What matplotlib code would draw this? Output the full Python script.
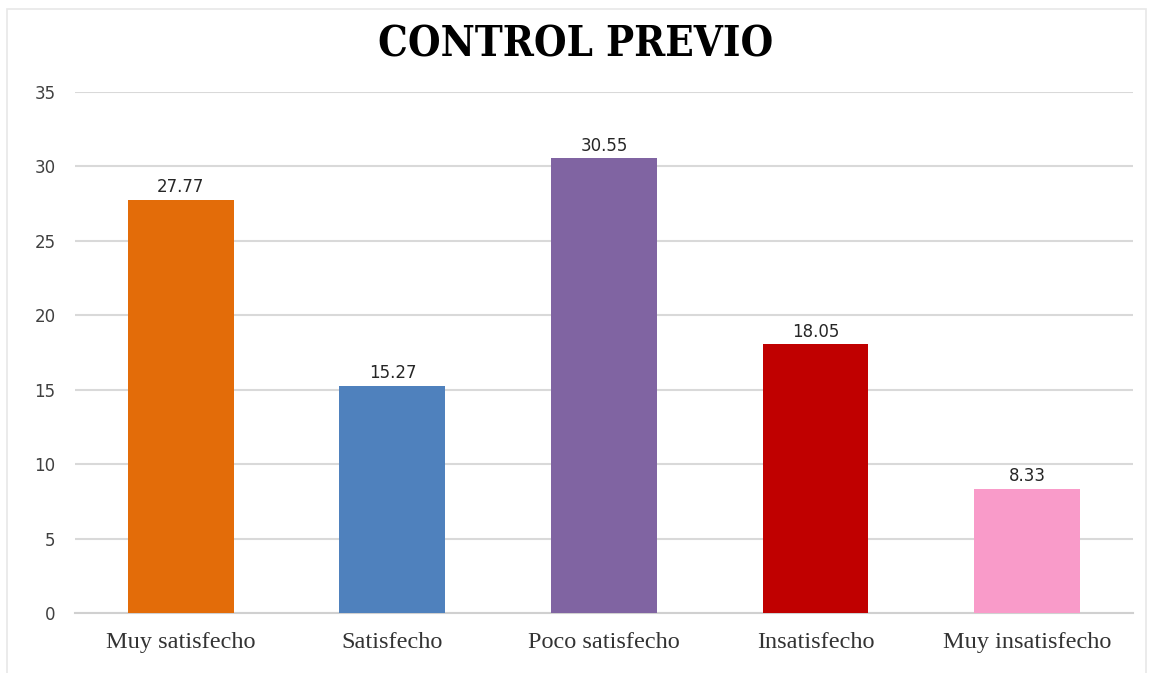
import matplotlib.pyplot as plt
from matplotlib.patches import Rectangle

# Control previo: satisfaction percentages
categories = ['Muy satisfecho', 'Satisfecho', 'Poco satisfecho', 'Insatisfecho', 'Muy insatisfecho']
values = [27.77, 15.27, 30.55, 18.05, 8.33]
colors = ['#E36C09', '#4F81BD', '#8064A2', '#C00000', '#F99BC9']
yticks = [0, 5, 10, 15, 20, 25, 30, 35]

fig = plt.figure(figsize=(11.52, 6.73), dpi=100)
ax = fig.add_axes([0.0651, 0.0892, 0.9184, 0.7741])

# faint outer frame of the chart
fig.patches.append(Rectangle((7 / 1152, -0.01), 1139 / 1152, 1 - 9 / 673 + 0.01,
                             transform=fig.transFigure, fill=False,
                             edgecolor='#E8E8E8', linewidth=1.2))

x = range(len(categories))
bars = ax.bar(x, values, width=0.5, color=colors, zorder=3)

for rect, v in zip(bars, values):
    ax.text(rect.get_x() + rect.get_width() / 2, v + 0.25, f'{v:.2f}',
            ha='center', va='bottom', fontsize=12, color='#262626',
            family='DejaVu Sans', zorder=4)

ax.set_xlim(-0.5, len(categories) - 0.5)
ax.set_ylim(0, 35)
ax.set_yticks(yticks)
ax.set_yticklabels([str(t) for t in yticks], fontsize=12, color='#404040', family='DejaVu Sans')
ax.set_xticks(list(x))
ax.set_xticklabels(categories, fontsize=17.5, color='#333333', family='Liberation Serif')
ax.tick_params(axis='both', length=0)
ax.tick_params(axis='y', pad=14)
ax.tick_params(axis='x', pad=14)

ax.grid(axis='y', color='#D9D9D9', linewidth=1.5, zorder=0)
for s in ['top', 'right', 'left']:
    ax.spines[s].set_visible(False)
ax.spines['bottom'].set_color('#D0D0D0')
ax.spines['bottom'].set_linewidth(1.5)

fig.text(0.5, 1 - 40 / 673, 'CONTROL PREVIO', ha='center', va='center_baseline',
         fontsize=30, fontweight='bold', family='DejaVu Serif',
         fontstretch='condensed', color='black')

plt.savefig('out.png', dpi=100)
plt.close(fig)
